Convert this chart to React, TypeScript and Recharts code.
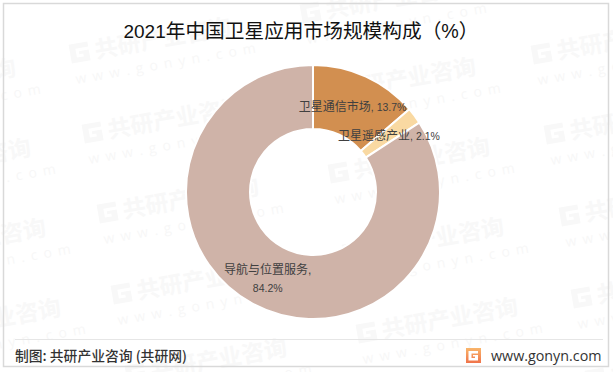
import { PieChart, Pie, Cell } from 'recharts'

const categories = ['卫星通信市场', '卫星遥感产业', '导航与位置服务']
const shares = [13.7, 2.1, 84.2]
const sliceColors = ['#D28F50', '#F9D9A2', '#CFB3A8']

const pieData = categories.map((name, i) => ({ name, value: shares[i] }))

const CJK = '"Liberation Sans", "Noto Sans CJK SC", sans-serif'
const RADIAN = Math.PI / 180

// watermark stamps, one list per column (G mark centre)
const stampCols = [
  [[-135, 93], [-120, 173], [-105, 253], [-90, 333]],
  [[80, 52], [93, 132], [108, 212], [122, 293], [136, 373]],
  [[311, 12], [325, 92], [339, 172], [353, 252], [367, 332]],
  [[542, 53], [555, 133], [570, 215], [582, 297], [596, 378]],
]

function GMark({ size, fill }: { size: number; fill: string }) {
  const s = size / 20
  return (
    <path
      transform={`scale(${s})`}
      fill={fill}
      d="M-10 -9 L9 -9 L9 -4 L-4 -4 L-4 5 L3 5 L3 2 L-1 2 L-1 -1 L9 -1 L9 10 L-10 10 Z"
    />
  )
}

function Stamp({ x, y }: { x: number; y: number }) {
  return (
    <g transform={`translate(${x},${y}) rotate(-10)`}>
      <GMark size={20} fill="#F8F8F8" />
      <text x={15} y={9} fontSize={23} fontWeight={700} fill="#F8F8F8" fontFamily={CJK}>
        共研产业咨询
      </text>
      <text x={-9} y={31} fontSize={14} letterSpacing={6.2} fill="#F7F7F7" fontFamily="'Open Sans', sans-serif">
        www.gonyn.com
      </text>
    </g>
  )
}

const renderLabel = (props: any) => {
  const { cx, cy, midAngle, innerRadius, outerRadius, name, value } = props
  const r = (innerRadius + outerRadius) / 2
  const x = cx + r * Math.cos(-midAngle * RADIAN)
  const y = cy + r * Math.sin(-midAngle * RADIAN)
  const long = name.length > 6
  return (
    <text x={x} y={y} textAnchor="middle" fontSize={12} fill="#404040" fontFamily={CJK}>
      {long ? (
        <>
          <tspan x={x} dy={-2}>{`${name},`}</tspan>
          <tspan x={x} dy={18} fontSize={10.5}>{`${value}%`}</tspan>
        </>
      ) : (
        <>
          <tspan x={x} dy={5}>{name}</tspan>
          <tspan fontSize={10.5}>{`, ${value}%`}</tspan>
        </>
      )}
    </text>
  )
}

export default function App() {
  return (
    <div style={{ position: 'absolute', left: 0, top: 0, width: 613, height: 372, background: '#fff', overflow: 'hidden' }}>
      <svg width={613} height={372} style={{ position: 'absolute', left: 0, top: 0 }}>
        <defs>
          <linearGradient id="logoFill" x1="0" y1="0" x2="0" y2="1">
            <stop offset="0%" stopColor="#F9B66B" />
            <stop offset="100%" stopColor="#F0734A" />
          </linearGradient>
        </defs>
        {stampCols.flat().map(([x, y], i) => (
          <Stamp key={i} x={x} y={y} />
        ))}
        <rect x={3.5} y={3.5} width={605} height={363} fill="none" stroke="#D9D9D9" strokeWidth={1.5} />
        <text x={301} y={38} textAnchor="middle" fontSize={19.7} fill="#111" fontFamily={CJK}>
          <tspan fontSize={19}>2021</tspan>年中国卫星应用市场规模构成（%）
        </text>
        <line x1={15} x2={603} y1={339.5} y2={339.5} stroke="#E6E6E6" />
        <text x={15} y={361} fontSize={13.8} fontWeight={500} fill="#333" fontFamily={'"Noto Sans CJK SC", sans-serif'}>
          制图: 共研产业咨询 (共研网)
        </text>
        <rect x={466} y={348} width={15} height={15} fill="url(#logoFill)" />
        <g transform="translate(473.5,355.5)">
          <GMark size={10} fill="#fff" />
        </g>
        <text x={491} y={361} fontSize={14.3} fill="#333" fontFamily="'Open Sans', sans-serif">
          www.gonyn.com
        </text>
      </svg>
      <div style={{ position: 'absolute', left: 0, top: 0 }}>
        <PieChart width={613} height={372} margin={{ top: 0, right: 0, bottom: 0, left: 0 }}>
          <Pie
            data={pieData}
            dataKey="value"
            nameKey="name"
            cx={313}
            cy={192}
            innerRadius={63}
            outerRadius={127}
            startAngle={90}
            endAngle={-270}
            stroke="#fff"
            strokeWidth={2}
            label={renderLabel}
            labelLine={false}
            isAnimationActive={false}
          >
            {pieData.map((d, i) => (
              <Cell key={d.name} fill={sliceColors[i]} />
            ))}
          </Pie>
        </PieChart>
      </div>
    </div>
  )
}
